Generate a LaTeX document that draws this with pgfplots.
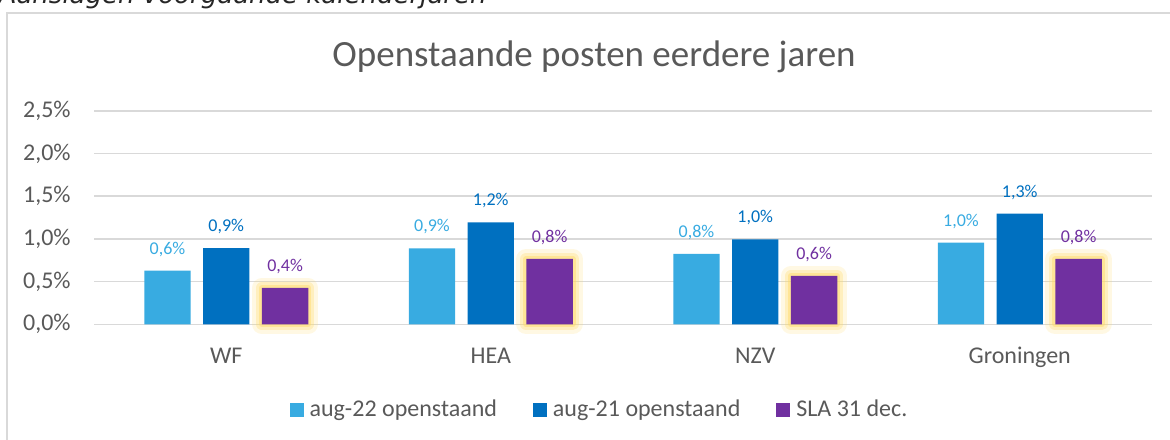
\documentclass[border=0pt]{standalone}
\usepackage{fontspec}
\setmainfont{Carlito}
\newfontfamily\dejavu{DejaVu Sans}
\usepackage{pgfplots}
\pgfplotsset{compat=1.18}
\definecolor{lblue}{HTML}{38ABE1}
\definecolor{dblue}{HTML}{0070C0}
\definecolor{purp}{HTML}{7030A0}
\definecolor{txt}{HTML}{595959}
\definecolor{grd}{HTML}{D9D9D9}
\definecolor{glow}{HTML}{FFD966}
\begin{document}
\begin{tikzpicture}
\useasboundingbox (0pt,0pt) rectangle (585pt,219.5pt);
\clip (0pt,0pt) rectangle (585pt,219.5pt);
\draw[grd, line width=0.6pt] (3.5pt,-5pt) rectangle (600pt,213pt);
\node[anchor=base east, font=\dejavu\itshape\fontsize{13}{15}\selectfont, text=black!85, inner sep=0pt] at (243.5pt,217.5pt) {Aanslagen voorgaande kalenderjaren};
\node[anchor=base, font=\fontsize{18.5}{22}\selectfont, text=txt, inner sep=0pt] at (297pt,186pt) {Openstaande posten eerdere jaren};
\begin{axis}[
  at={(47pt,57.35pt)}, anchor=south west,
  scale only axis, width=529pt, height=106.8pt,
  xmin=-0.5, xmax=3.5, ymin=0, ymax=2.5,
  ybar, bar width=23.2pt,
  axis line style={draw=none},
  major tick length=0pt,
  xtick={0,1,2,3}, xticklabels={WF,HEA,NZV,Groningen},
  ytick={0,0.5,1,1.5,2,2.5},
  yticklabels={{0,0\%},{0,5\%},{1,0\%},{1,5\%},{2,0\%},{2,5\%}},
  ymajorgrids, grid style={grd, line width=0.8pt},
  tick label style={font=\fontsize{12}{14}\selectfont, text=txt},
  yticklabel style={anchor=east, inner sep=0pt, xshift=-11.5pt},
  xticklabel style={anchor=base, inner sep=0pt, yshift=-19.35pt},
  clip=false,
  every node near coord/.append style={font=\fontsize{9}{11}\selectfont, inner sep=0pt, yshift=6.8pt},
  legend columns=3,
  legend style={at={(0.4768,-0.399)}, anchor=center, draw=none, fill=none,
    font=\fontsize{12}{14}\selectfont, text=txt, nodes={inner sep=0pt},
    /tikz/every odd column/.append style={column sep=3pt},
    /tikz/every even column/.append style={column sep=18pt}},
]
\addplot[fill=lblue, draw=none, bar shift=-29.4pt, nodes near coords, point meta=explicit symbolic,
  every node near coord/.append style={text=lblue},
  legend image code/.code={\fill[lblue] (0pt,-3.5pt) rectangle (7pt,3.5pt);}]
  coordinates {(0,0.628) [0,6\%] (1,0.890) [0,9\%] (2,0.823) [0,8\%] (3,0.955) [1,0\%]};
\addplot[fill=dblue, draw=none, bar shift=0pt, nodes near coords, point meta=explicit symbolic,
  every node near coord/.append style={text=dblue},
  legend image code/.code={\fill[dblue] (0pt,-3.5pt) rectangle (7pt,3.5pt);}]
  coordinates {(0,0.893) [0,9\%] (1,1.194) [1,2\%] (2,0.995) [1,0\%] (3,1.295) [1,3\%]};
\addplot[forget plot, bar shift=29.4pt, fill=none, draw=glow, draw opacity=0.18, line width=10pt, line join=round]
  coordinates {(0,0.425) (1,0.765) (2,0.566) (3,0.765)};
\addplot[forget plot, bar shift=29.4pt, fill=none, draw=glow, draw opacity=0.3, line width=6pt, line join=round]
  coordinates {(0,0.425) (1,0.765) (2,0.566) (3,0.765)};
\addplot[forget plot, bar shift=29.4pt, fill=none, draw=glow, draw opacity=0.45, line width=3pt, line join=round]
  coordinates {(0,0.425) (1,0.765) (2,0.566) (3,0.765)};
\addplot[fill=purp, draw=none, bar shift=29.4pt, nodes near coords, point meta=explicit symbolic,
  every node near coord/.append style={text=purp},
  legend image code/.code={\fill[purp] (0pt,-3.5pt) rectangle (7pt,3.5pt);}]
  coordinates {(0,0.425) [0,4\%] (1,0.765) [0,8\%] (2,0.566) [0,6\%] (3,0.765) [0,8\%]};
\legend{aug-22 openstaand, aug-21 openstaand, SLA 31 dec.}
\end{axis}
\end{tikzpicture}
\end{document}
